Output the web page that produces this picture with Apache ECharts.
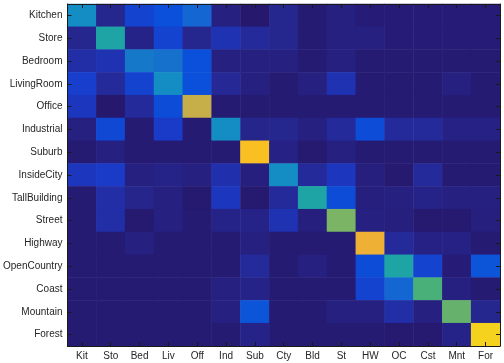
<!DOCTYPE html>
<html>
<head>
<meta charset="utf-8">
<script src="https://cdn.jsdelivr.net/npm/echarts@6/dist/echarts.min.js"></script>
<style>
html,body{margin:0;padding:0;background:#ffffff;}
#chart{width:504px;height:363px;}
</style>
</head>
<body>
<div id="chart"></div>
<script>
const colLabels = ['Kit','Sto','Bed','Liv','Off','Ind','Sub','Cty','Bld','St','HW','OC','Cst','Mnt','For'];
const rowLabels = ['Kitchen','Store','Bedroom','LivingRoom','Office','Industrial','Suburb','InsideCity','TallBuilding','Street','Highway','OpenCountry','Coast','Mountain','Forest'];

const rowKitchen     = [0.30,0.05,0.12,0.15,0.20,0.03,0.00,0.05,0.01,0.03,0.015,0.015,0.015,0.015,0.015];
const rowStore       = [0.05,0.45,0.04,0.12,0.05,0.08,0.06,0.05,0.01,0.03,0.03,0.015,0.015,0.015,0.015];
const rowBedroom     = [0.07,0.08,0.25,0.23,0.15,0.03,0.03,0.03,0.01,0.03,0.01,0.01,0.01,0.01,0.01];
const rowLivingRoom  = [0.11,0.06,0.12,0.30,0.15,0.055,0.03,0.01,0.03,0.08,0.01,0.01,0.01,0.03,0.01];
const rowOffice      = [0.09,0.00,0.06,0.14,0.72,0.01,0.01,0.01,0.01,0.01,0.01,0.01,0.01,0.01,0.01];
const rowIndustrial  = [0.03,0.13,0.01,0.10,0.01,0.30,0.045,0.05,0.03,0.06,0.14,0.06,0.06,0.035,0.035];
const rowSuburb      = [0.01,0.03,0.01,0.01,0.01,0.01,0.90,0.035,0.005,0.03,0.01,0.01,0.01,0.01,0.01];
const rowInsideCity  = [0.09,0.10,0.03,0.04,0.03,0.075,0.025,0.30,0.06,0.09,0.025,0.005,0.06,0.01,0.01];
const rowTallBuilding= [0.01,0.07,0.045,0.03,0.005,0.09,0.005,0.06,0.45,0.14,0.025,0.03,0.04,0.03,0.03];
const rowStreet      = [0.01,0.07,0.005,0.03,0.01,0.04,0.04,0.08,0.025,0.60,0.03,0.025,0.005,0.005,0.025];
const rowHighway     = [0.01,0.01,0.03,0.01,0.01,0.01,0.03,0.01,0.01,0.01,0.82,0.06,0.035,0.035,0.01];
const rowOpenCountry = [0.01,0.01,0.01,0.01,0.01,0.01,0.06,0.01,0.03,0.01,0.14,0.45,0.12,0.015,0.16];
const rowCoast       = [0.01,0.01,0.01,0.01,0.01,0.03,0.04,0.01,0.01,0.01,0.12,0.20,0.55,0.03,0.01];
const rowMountain    = [0.01,0.01,0.01,0.01,0.01,0.03,0.16,0.01,0.01,0.03,0.03,0.07,0.03,0.58,0.05];
const rowForest      = [0.01,0.01,0.01,0.01,0.01,0.01,0.04,0.01,0.01,0.01,0.01,0.005,0.005,0.04,0.95];

const rows = [rowKitchen,rowStore,rowBedroom,rowLivingRoom,rowOffice,rowIndustrial,rowSuburb,rowInsideCity,rowTallBuilding,rowStreet,rowHighway,rowOpenCountry,rowCoast,rowMountain,rowForest];

const palette = ['#26186C','#26268F','#1A3AC8','#0A50DA','#1466D2','#1678C8','#148CC4','#1598BE','#1AA0AE','#1EA4A4','#34AC90','#48B078','#7AB464','#9AB458','#BCB04C','#D4AE44','#EAAC3C','#F6B62C','#FAC022','#F4D21E','#F5E818'];

const data = [];
rows.forEach((r, yi) => r.forEach((v, xi) => data.push([xi, yi, v])));

const textColor = '#262626';
const tick = {show: true, inside: true, alignWithLabel: true, interval: 0, length: 4, lineStyle: {color: '#1a1a1a', width: 1}};
const line = {show: true, lineStyle: {color: '#1a1a1a', width: 1}};
const chart = echarts.init(document.getElementById('chart'));
chart.setOption({
  animation: false,
  grid: {left: 67, right: 4, top: 4, bottom: 17, show: false},
  visualMap: {show: false, min: 0, max: 1, calculable: false, inRange: {color: palette}, seriesIndex: 0},
  xAxis: [
    {type: 'category', data: colLabels, position: 'bottom', zlevel: 1, z: 10,
     axisLine: line, axisTick: tick,
     axisLabel: {color: textColor, fontFamily: 'Liberation Sans', fontSize: 10, margin: 5, interval: 0},
     splitLine: {show: false}},
    {type: 'category', data: colLabels, position: 'top', zlevel: 1, z: 10,
     axisLine: line, axisTick: tick,
     axisLabel: {show: false}, splitLine: {show: false}}
  ],
  yAxis: [
    {type: 'category', data: rowLabels, inverse: true, position: 'left', zlevel: 1, z: 10,
     axisLine: line, axisTick: tick,
     axisLabel: {color: textColor, fontFamily: 'Liberation Sans', fontSize: 10, margin: 5, interval: 0},
     splitLine: {show: false}},
    {type: 'category', data: rowLabels, inverse: true, position: 'right', zlevel: 1, z: 10,
     axisLine: line, axisTick: tick,
     axisLabel: {show: false}, splitLine: {show: false}}
  ],
  series: [{
    type: 'heatmap', xAxisIndex: 0, yAxisIndex: 0, data: data, zlevel: 0, z: 1,
    itemStyle: {borderWidth: 0},
    emphasis: {disabled: true}
  }]
});
</script>
</body>
</html>
